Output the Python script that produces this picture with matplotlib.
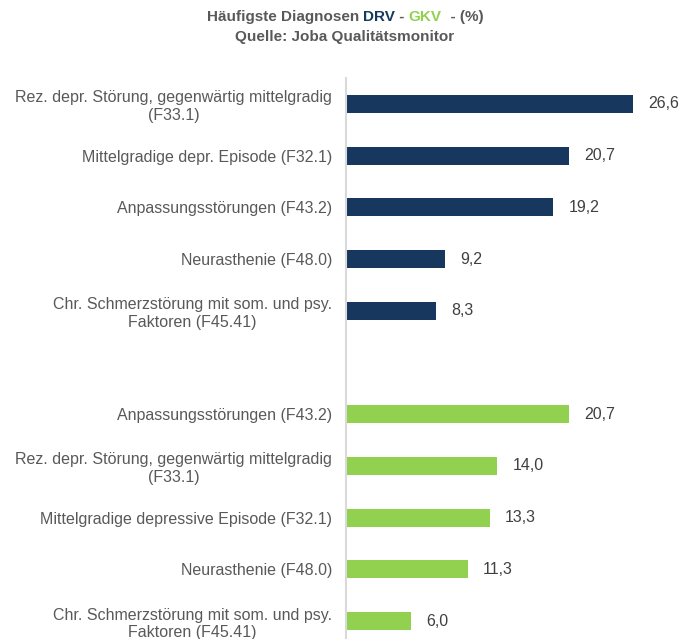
import numpy as np
import matplotlib.pyplot as plt

plt.rcParams['font.family'] = ['Liberation Sans', 'DejaVu Sans']

drv_labels = ['Rez. depr. Störung, gegenwärtig mittelgradig\n(F33.1)',
              'Mittelgradige depr. Episode (F32.1)',
              'Anpassungsstörungen (F43.2)',
              'Neurasthenie (F48.0)',
              'Chr. Schmerzstörung mit som. und psy.\nFaktoren (F45.41)']
drv_values = [26.6, 20.7, 19.2, 9.2, 8.3]

gkv_labels = ['Anpassungsstörungen (F43.2)',
              'Rez. depr. Störung, gegenwärtig mittelgradig\n(F33.1)',
              'Mittelgradige depressive Episode (F32.1)',
              'Neurasthenie (F48.0)',
              'Chr. Schmerzstörung mit som. und psy.\nFaktoren (F45.41)']
gkv_values = [20.7, 14.0, 13.3, 11.3, 6.0]

navy = '#17375E'
green = '#92D050'
txt = '#404040'
grey = '#595959'

fig = plt.figure(figsize=(6.94, 6.39), dpi=100)
ax = fig.add_axes([0.4986, -0.0125, 0.4664, 0.8905])

pos_drv = np.arange(len(drv_values))
pos_gkv = np.arange(len(gkv_values)) + len(drv_values) + 1

ax.barh(pos_drv, drv_values, height=0.35, color=navy)
ax.barh(pos_gkv, gkv_values, height=0.35, color=green)

for p, v in list(zip(pos_drv, drv_values)) + list(zip(pos_gkv, gkv_values)):
    ax.annotate(f'{v:.1f}'.replace('.', ','), (v, p), xytext=(11, 0),
                textcoords='offset points', va='center', ha='left',
                fontsize=11.5, color=txt)

ax.set_yticks(list(pos_drv) + list(pos_gkv))
ax.set_yticklabels(drv_labels + gkv_labels, fontsize=11.5, color=grey)
for t in ax.get_yticklabels():
    t.set_multialignment('center')
    t.set_linespacing(1.2)
ax.tick_params(axis='y', length=0, pad=10)
ax.set_xticks([])
ax.set_xlim(0, 30)
ax.set_ylim(10.5, -0.5)

for s in ['top', 'right', 'bottom']:
    ax.spines[s].set_visible(False)
ax.spines['left'].set_color('#D9D9D9')
ax.spines['left'].set_linewidth(1.5)

# title with coloured parts
parts = [('Häufigste Diagnosen ', grey), ('DRV', navy), (' - ', grey),
         ('GKV', green), ('  - (%)', grey)]
fig.canvas.draw()
r = fig.canvas.get_renderer()
widths = []
objs = []
for s, c in parts:
    t = fig.text(0, 1 - 17 / 639, s, fontsize=11, fontweight='bold', color=c,
                 va='center', ha='left')
    objs.append(t)
    widths.append(t.get_window_extent(r).width)
x0 = (345 - sum(widths) / 2)
for t, w in zip(objs, widths):
    t.set_x(x0 / 694)
    x0 += w
fig.text(345 / 694, 1 - 37 / 639, 'Quelle: Joba Qualitätsmonitor', fontsize=11,
         fontweight='bold', color=grey, va='center', ha='center')

fig.savefig('out.png', dpi=100)
